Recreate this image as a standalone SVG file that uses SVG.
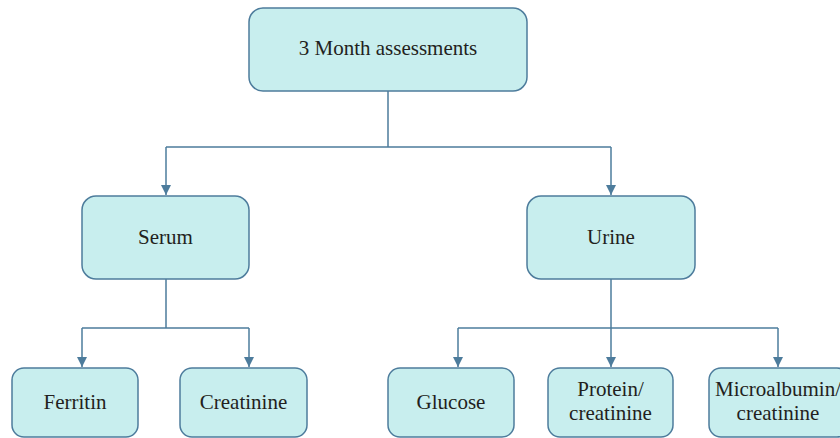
<svg xmlns="http://www.w3.org/2000/svg" width="840" height="438" viewBox="0 0 840 438">
<style>
.box{fill:#c8eeee;stroke:#4d7c9c;stroke-width:1.5}
.t{font-family:'Liberation Serif','Times New Roman',serif;font-size:21px;fill:#231f20;text-anchor:middle}
.c{fill:none;stroke:#4d7c9c;stroke-width:1.5}
</style>
<defs>
<marker id="ah" viewBox="0 0 10 10" refX="10" refY="5" markerWidth="10" markerHeight="10" markerUnits="userSpaceOnUse" orient="auto">
<path d="M0,0 L10,5 L0,10 Z" fill="#4d7c9c"/>
</marker>
</defs>
<rect width="840" height="438" fill="#ffffff"/>
<g id="connectors">
<path class="c" d="M388,91 V147 M166,147 H611"/>
<path class="c" d="M166,147 V195" marker-end="url(#ah)"/>
<path class="c" d="M611,147 V195" marker-end="url(#ah)"/>
<path class="c" d="M166,279 V328 M82,328 H249"/>
<path class="c" d="M82,328 V367" marker-end="url(#ah)"/>
<path class="c" d="M249,328 V367" marker-end="url(#ah)"/>
<path class="c" d="M611,279 V367" marker-end="url(#ah)"/>
<path class="c" d="M458,328 H778"/>
<path class="c" d="M458,328 V367" marker-end="url(#ah)"/>
<path class="c" d="M778,328 V367" marker-end="url(#ah)"/>
</g>
<g id="n-top"><rect class="box" x="249" y="8" width="278" height="83" rx="14"/><text class="t" x="388" y="55" font-family="Liberation Serif">3 Month assessments</text></g>
<g id="n-serum"><rect class="box" x="82" y="196" width="167" height="83" rx="14"/><text class="t" x="165.5" y="244" font-family="Liberation Serif">Serum</text></g>
<g id="n-urine"><rect class="box" x="527" y="196" width="168" height="83" rx="14"/><text class="t" x="611" y="244" font-family="Liberation Serif">Urine</text></g>
<g id="n-ferritin"><rect class="box" x="12" y="368" width="126" height="69" rx="12"/><text class="t" x="75" y="409" font-family="Liberation Serif">Ferritin</text></g>
<g id="n-creatinine"><rect class="box" x="180" y="368" width="127" height="69" rx="12"/><text class="t" x="243.5" y="409" font-family="Liberation Serif">Creatinine</text></g>
<g id="n-glucose"><rect class="box" x="388" y="368" width="126" height="69" rx="12"/><text class="t" x="451" y="409" font-family="Liberation Serif">Glucose</text></g>
<g id="n-protein"><rect class="box" x="548" y="368" width="125" height="69" rx="12"/><text class="t" x="610.5" y="396" font-family="Liberation Serif">Protein/</text><text class="t" x="610.5" y="420" font-family="Liberation Serif">creatinine</text></g>
<g id="n-micro"><rect class="box" x="709" y="368" width="140" height="69" rx="12"/><text class="t" x="778" y="396" font-family="Liberation Serif">Microalbumin/</text><text class="t" x="778" y="420" font-family="Liberation Serif">creatinine</text></g>
</svg>
